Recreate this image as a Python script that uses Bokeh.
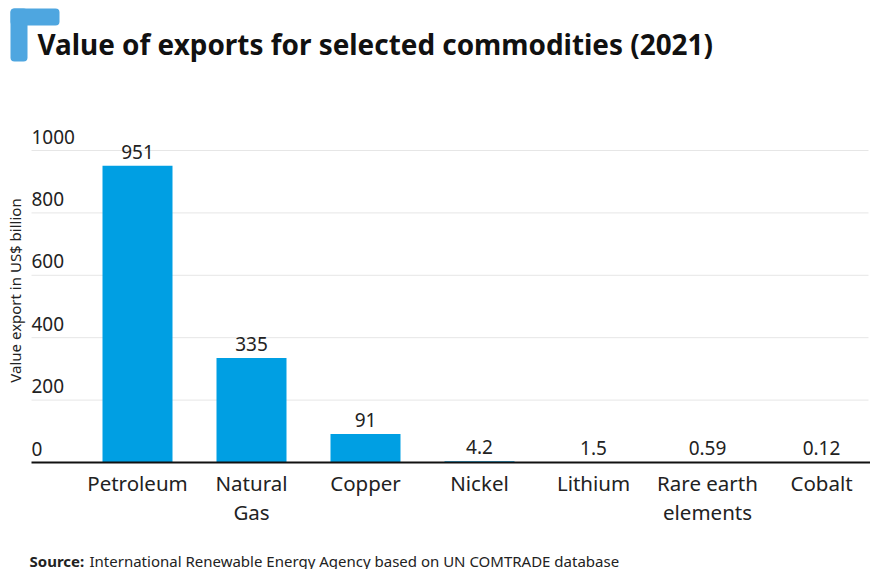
import math
from bokeh.plotting import figure
from bokeh.models import Range1d
from bokeh.core.properties import value
from bokeh.embed import file_html
from bokeh.resources import INLINE

# ---- data ----
categories = ["Petroleum", "Natural\nGas", "Copper", "Nickel", "Lithium",
              "Rare earth\nelements", "Cobalt"]
values = [951, 335, 91, 4.2, 1.5, 0.59, 0.12]
value_labels = ["951", "335", "91", "4.2", "1.5", "0.59", "0.12"]
y_ticks = [0, 200, 400, 600, 800, 1000]
y_tick_labels = ["0", "200", "400", "600", "800", "1000"]
title_text = "Value of exports for selected commodities (2021)"
y_title = "Value export in US$ billion"
source_bold = "Source:"
source_rest = "International Renewable Energy Agency based on UN COMTRADE database"

# ---- layout (pixel geometry of the canvas) ----
W, H = 870, 569
PX0, STEP = 137.0, 114.0      # pixel centre of first category, spacing
BASE, PPU = 462.0, 0.312      # pixel y of value 0, pixels per unit


def X(px):
    return (px - PX0) / STEP


def Y(py):
    return (BASE - py) / PPU


FONT = value("Noto Sans")
TXT = "#222222"
BAR = "#009fe3"
MARK = "#4ea6e0"

p = figure(width=W, height=H, output_backend="svg", toolbar_location=None,
           x_range=Range1d(X(0), X(W)), y_range=Range1d(Y(H), Y(0)),
           x_axis_type=None, y_axis_type=None, min_border=0,
           outline_line_color=None, background_fill_color="white",
           border_fill_color="white")
p.grid.visible = False

xs = list(range(len(categories)))

# gridlines
grid_ticks = [t for t in y_ticks if t != 0]
p.segment(x0=[X(31)] * len(grid_ticks), x1=[X(868)] * len(grid_ticks),
          y0=grid_ticks, y1=grid_ticks, line_color="#e6e6e6", line_width=1)

# bars
p.vbar(x=xs, top=values, bottom=0, width=70 / STEP, fill_color=BAR,
       line_color=None)

# baseline
p.segment(x0=[X(31)], x1=[X(870)], y0=[0], y1=[0], line_color="#111111",
          line_width=2)

# y tick labels
p.text(x=[X(31)] * len(y_ticks), y=y_ticks, text=y_tick_labels,
       text_font=FONT, text_font_size="19px", text_color=TXT,
       text_align="left", text_baseline="middle", y_offset=-14)

# value labels
p.text(x=xs, y=values, text=value_labels, text_font=FONT,
       text_font_size="19px", text_color=TXT, text_align="center",
       text_baseline="middle", y_offset=-14)

# category labels (two lines)
line1 = [c.split("\n")[0] for c in categories]
line2 = [c.split("\n")[1] if "\n" in c else "" for c in categories]
p.text(x=xs, y=[0] * len(xs), text=line1, text_font=FONT,
       text_font_size="20.5px", text_color=TXT, text_align="center",
       text_baseline="middle", y_offset=20)
p.text(x=xs, y=[0] * len(xs), text=line2, text_font=FONT,
       text_font_size="20.5px", text_color=TXT, text_align="center",
       text_baseline="middle", y_offset=49)

# y axis title
p.text(x=[X(14)], y=[Y(290)], text=[y_title], text_font=FONT,
       text_font_size="15px", text_color=TXT, text_align="center",
       text_baseline="middle", angle=math.pi / 2)

# title mark (L shape)
p.quad(left=[X(10)], right=[X(27)], top=[Y(8)], bottom=[Y(61)],
       fill_color=MARK, line_color=None, border_radius=4)
p.quad(left=[X(10)], right=[X(59)], top=[Y(8)], bottom=[Y(25)],
       fill_color=MARK, line_color=None, border_radius=4)

# title
p.text(x=[X(37)], y=[Y(43)], text=[title_text], text_font=FONT,
       text_font_size="27.9px", text_font_style="bold", text_color="#111111",
       text_align="left", text_baseline="middle")

# source
p.text(x=[X(29)], y=[Y(560)], text=[source_bold], text_font=FONT,
       text_font_size="15px", text_font_style="bold", text_color=TXT,
       text_align="left", text_baseline="middle")
p.text(x=[X(89)], y=[Y(560)], text=[source_rest], text_font=FONT,
       text_font_size="15px", text_color=TXT, text_align="left",
       text_baseline="middle")

open("out.html", "w").write(file_html(p, INLINE))
